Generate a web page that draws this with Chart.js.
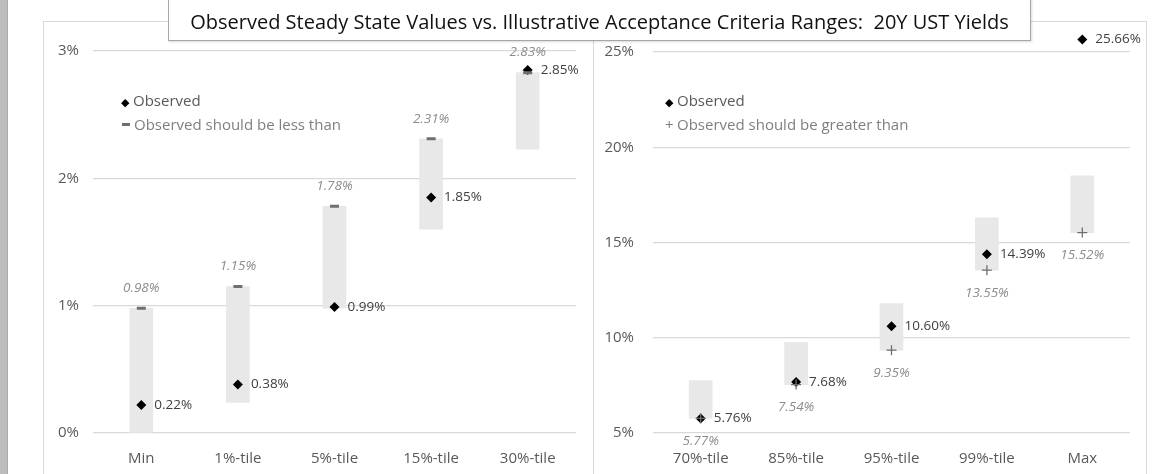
<!DOCTYPE html>
<html>
<head>
<meta charset="utf-8">
<script src="https://cdn.jsdelivr.net/npm/chart.js@4.4.1/dist/chart.umd.min.js"></script>
<style>
  body { margin: 0; background: #fff; font-family: 'Open Sans', sans-serif; }
  #page { position: relative; width: 1171px; height: 474px; overflow: hidden; background: #fff; }
  #strip { position: absolute; left: 0; top: 0; width: 7px; height: 474px; background: #bdbdbd; border-right: 1px solid #a9a9a9; }
  .frame { position: absolute; top: 21px; height: 470px; border: 1px solid #d9d9d9; border-bottom: none; }
  #leftFrame { left: 43px; width: 549px; }
  #rightFrame { left: 594px; width: 552px; border-left: none; }
  canvas { position: absolute; }
  #title { position: absolute; left: 168px; top: -2px; width: 861px; height: 41px; background: #fff;
           border: 1px solid #a6a6a6; box-shadow: 1px 1px 2px rgba(0,0,0,0.15);
           font-size: 20px; color: #111; text-align: center; line-height: 46px; white-space: pre; }
  .legend { position: absolute; font-size: 15px; line-height: 23px; }
  .legend .obs { color: #595959; }
  .legend .lim { color: #7f7f7f; }
  .dia { display: inline-block; width: 12px; color: #000; font-size: 11px; }
  .dash { display: inline-block; width: 8px; height: 3px; background: #6f6f6f; vertical-align: middle; margin: 0 4px 3px 1px; }
</style>
</head>
<body>
<div id="page">
  <div id="strip"></div>
  <div id="leftFrame" class="frame"></div>
  <div id="rightFrame" class="frame"></div>
  <canvas id="leftChart" width="550" height="453" style="left:43px; top:21px;"></canvas>
  <!-- taller canvas so the 25.66% point above the top gridline still has room -->
  <canvas id="rightChart" width="553" height="469" style="left:594px; top:5px;"></canvas>
  <div id="title">Observed Steady State Values vs. Illustrative Acceptance Criteria Ranges:  20Y UST Yields</div>
  <div class="legend" style="left:121px; top:89px;">
    <div class="obs"><span class="dia">&#9670;</span>Observed</div>
    <div class="lim"><span class="dash"></span>Observed should be less than</div>
  </div>
  <div class="legend" style="left:665px; top:89px;">
    <div class="obs"><span class="dia">&#9670;</span>Observed</div>
    <div class="lim"><span style="display:inline-block;width:12px;">+</span>Observed should be greater than</div>
  </div>
</div>
<script>
// left panel: low percentiles, upper limits
var leftCategories = ['Min', '1%-tile', '5%-tile', '15%-tile', '30%-tile'];
var leftObserved = [0.22, 0.38, 0.99, 1.85, 2.85];
var leftUpper = [0.98, 1.15, 1.78, 2.31, 2.83];
var leftRangeLow = [0.00, 0.24, 0.98, 1.60, 2.23];
var leftTicks = [0, 1, 2, 3];

// right panel: high percentiles, lower limits
var rightCategories = ['70%-tile', '85%-tile', '95%-tile', '99%-tile', 'Max'];
var rightObserved = [5.76, 7.68, 10.60, 14.39, 25.66];
var rightLower = [5.77, 7.54, 9.35, 13.55, 15.52];
var rightRangeHigh = [7.75, 9.75, 11.80, 16.30, 18.50];
var rightTicks = [5, 10, 15, 20, 25];

Chart.defaults.font.family = "'Open Sans', sans-serif";
Chart.defaults.animation = false;

// writes the value next to each point of datasets that ask for it
var pointLabels = {
    id: 'pointLabels',
    afterDatasetsDraw: function(chart) {
        var ctx = chart.ctx;
        chart.data.datasets.forEach(function(ds, i) {
            if (!ds.labelPos) return;
            var meta = chart.getDatasetMeta(i);
            ctx.save();
            ctx.font = (ds.labelItalic ? 'italic ' : '') + "13.5px 'Open Sans'";
            ctx.fillStyle = ds.labelColor;
            ctx.textBaseline = 'middle';
            meta.data.forEach(function(el, j) {
                var txt = ds.data[j].toFixed(2) + '%';
                if (ds.labelPos == 'right') {
                    ctx.textAlign = 'left';
                    ctx.fillText(txt, el.x + 13, el.y);
                } else if (ds.labelPos == 'above') {
                    ctx.textAlign = 'center';
                    ctx.fillText(txt, el.x, el.y - 20);
                } else {
                    ctx.textAlign = 'center';
                    ctx.fillText(txt, el.x, el.y + 23);
                }
            });
            ctx.restore();
        });
    }
};

function makePanel(id, cats, observed, limits, ranges, ticks, yMax, limitStyle, limitLabelPos, yWidth, yPad, topPad) {
    var tickFont = { size: 15 };
    return new Chart(document.getElementById(id), {
        type: 'bar',
        data: {
            labels: cats,
            datasets: [
                {
                    type: 'line',
                    data: limits,
                    showLine: false,
                    pointStyle: limitStyle,
                    pointRadius: limitStyle == 'line' ? 4.5 : 5,
                    borderWidth: limitStyle == 'line' ? 3 : 1.3,
                    borderColor: '#6f6f6f',
                    backgroundColor: '#6f6f6f',
                    order: 0,
                    labelPos: limitLabelPos,
                    labelItalic: true,
                    labelColor: '#8c8c8c'
                },
                {
                    type: 'line',
                    data: observed,
                    showLine: false,
                    pointStyle: 'rectRot',
                    pointRadius: 5,
                    borderWidth: 0,
                    backgroundColor: '#000',
                    borderColor: '#000',
                    clip: false,
                    order: 1,
                    labelPos: 'right',
                    labelColor: '#404040'
                },
                {
                    type: 'bar',
                    data: ranges,
                    backgroundColor: '#e8e8e8',
                    barThickness: 23,
                    order: 2
                }
            ]
        },
        options: {
            responsive: false,
            layout: { padding: { top: topPad, right: 17, left: 0, bottom: 0 } },
            plugins: { legend: { display: false }, tooltip: { enabled: false } },
            scales: {
                x: {
                    grid: { display: false },
                    border: { display: false },
                    ticks: { color: '#595959', font: tickFont, padding: 9 },
                    afterFit: function(s) { s.height = 41; }
                },
                y: {
                    min: ticks[0],
                    max: yMax,
                    afterBuildTicks: function(s) { s.ticks = ticks.map(function(v) { return { value: v }; }); },
                    grid: { color: '#d9d9d9', drawTicks: false, lineWidth: 1.3 },
                    border: { display: false },
                    ticks: {
                        color: '#595959', font: tickFont, padding: yPad,
                        callback: function(v) { return v + '%'; }
                    },
                    afterFit: function(s) { s.width = yWidth; }
                }
            }
        },
        plugins: [pointLabels]
    });
}

var leftBars = leftCategories.map(function(c, i) { return [leftRangeLow[i], leftUpper[i]]; });
var rightBars = rightCategories.map(function(c, i) { return [rightLower[i], rightRangeHigh[i]]; });

makePanel('leftChart', leftCategories, leftObserved, leftUpper, leftBars, leftTicks, 3, 'line', 'above', 50, 14, 30);
makePanel('rightChart', rightCategories, rightObserved, rightLower, rightBars, rightTicks, 26, 'cross', 'below', 59, 19, 28);
</script>
</body>
</html>
